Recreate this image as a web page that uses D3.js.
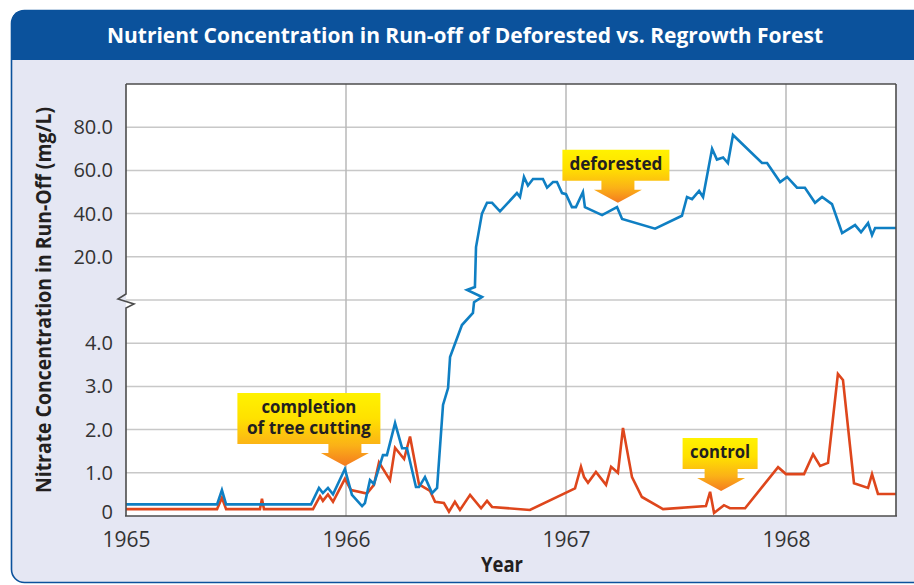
<!DOCTYPE html>
<html>
<head>
<meta charset="utf-8">
<script src="https://cdn.jsdelivr.net/npm/d3@7"></script>
<style>
html,body{margin:0;padding:0;background:#fff;}
svg{display:block;}
</style>
</head>
<body>
<svg id="chart" width="914" height="585"></svg>
<script>
// ---------------- DATA ----------------
const yearTicks = [1965, 1966, 1967, 1968];
const yearLabels = ["1965", "1966", "1967", "1968"];
const lowTicks = [0, 1, 2, 3, 4];
const lowTickLabels = ["0", "1.0", "2.0", "3.0", "4.0"];
const highTicks = [20, 40, 60, 80];
const highTickLabels = ["20.0", "40.0", "60.0", "80.0"];

// Deforested watershed, lower (0-5 mg/L) part
const defLowDates = [1965.000,1965.414,1965.436,1965.455,1965.841,1965.877,1965.895,1965.918,1965.941,1965.995,
  1966.027,1966.073,1966.086,1966.109,1966.127,1966.168,1966.186,1966.223,1966.255,1966.277,1966.318,1966.332,
  1966.359,1966.391,1966.414,1966.441,1966.464,1966.473,1966.527,1966.577,1966.582];
const defLowValues = [0.27,0.27,0.6,0.27,0.27,0.65,0.53,0.65,0.5,1.09,
  0.49,0.23,0.3,0.83,0.74,1.41,1.41,2.15,1.57,1.57,0.67,0.67,
  0.9,0.53,0.65,2.57,2.96,3.68,4.42,4.7,4.95];

// Deforested watershed, upper (0-100 mg/L) part
const defHighDates = [1966.586,1966.591,1966.618,1966.641,1966.664,1966.700,1966.777,1966.791,1966.809,1966.827,
  1966.850,1966.895,1966.914,1966.941,1966.959,1966.982,1967.000,1967.027,1967.045,1967.077,1967.086,1967.164,
  1967.232,1967.255,1967.405,1967.527,1967.550,1967.573,1967.605,1967.623,1967.664,1967.686,1967.714,1967.736,
  1967.759,1967.891,1967.914,1967.973,1968.005,1968.050,1968.086,1968.132,1968.164,1968.209,1968.255,1968.314,
  1968.341,1968.373,1968.391,1968.405,1968.500];
const defHighValues = [6,24.5,40,45,45,41,49.5,47.7,57,53,
  56,56,52,54.6,54.6,49.5,49,43,43,50,43,39.3,
  43,37.5,33,39,47.7,46.7,50.5,47.7,70,65,66,63.4,
  76.4,63.4,63.4,54.6,57,52,52,45,47.7,44.4,31,34.7,
  31.4,35.6,30,33.3,33.3];

// Control (regrowth) watershed
const ctrlDates = [1965.000,1965.414,1965.436,1965.455,1965.609,1965.618,1965.627,1965.850,1965.882,1965.895,
  1965.918,1965.941,1965.995,1966.023,1966.095,1966.127,1966.150,1966.200,1966.223,1966.264,1966.291,1966.332,
  1966.382,1966.405,1966.445,1966.468,1966.495,1966.518,1966.564,1966.614,1966.641,1966.664,1966.836,1967.041,
  1967.068,1967.082,1967.100,1967.136,1967.182,1967.205,1967.236,1967.259,1967.300,1967.345,1967.441,1967.636,
  1967.655,1967.673,1967.718,1967.745,1967.814,1967.964,1968.000,1968.082,1968.123,1968.155,1968.191,1968.236,
  1968.259,1968.309,1968.373,1968.391,1968.418,1968.500];
const ctrlValues = [0.16,0.16,0.42,0.16,0.16,0.4,0.16,0.16,0.46,0.35,
  0.5,0.33,0.86,0.6,0.52,0.72,1.24,0.83,1.58,1.32,1.84,0.73,
  0.58,0.33,0.3,0.1,0.33,0.14,0.49,0.18,0.35,0.21,0.14,0.64,
  1.14,0.9,0.77,1.02,0.72,1.14,1.0,2.04,0.9,0.44,0.16,0.23,
  0.56,0.07,0.25,0.18,0.18,1.13,0.97,0.97,1.43,1.16,1.23,3.29,
  3.15,0.76,0.65,0.97,0.51,0.51];

// Callout annotations (arrow tip anchored at a data coordinate)
const calloutTexts = [["completion", "of tree cutting"], ["deforested"], ["control"]];
const calloutDates = [1965.995, 1967.236, 1967.705];
const calloutValues = [1.16, 45, 0.58];
const calloutPanels = ["low", "high", "low"];

// ---------------- LAYOUT ----------------
const plot = {left: 126, right: 896, top: 84, bottom: 516, brk: 300};
const BLUE = "#0b529c";
const FONT = "'Open Sans', 'Noto Sans', 'DejaVu Sans', sans-serif";

const svg = d3.select("#chart");

const x = d3.scaleLinear().domain([1965, 1968.5]).range([plot.left, plot.right]);
const yLow = d3.scaleLinear().domain([0, 5]).range([plot.bottom, plot.brk]);
const yHigh = d3.scaleLinear().domain([0, 100]).range([plot.brk, plot.top]);

// defs: gradient
const defs = svg.append("defs");
const grad = defs.append("linearGradient").attr("id", "callGrad")
  .attr("x1", 0).attr("y1", 0).attr("x2", 0).attr("y2", 1);
[[0, "#fff200"], [0.35, "#ffe100"], [0.72, "#fbb117"], [1, "#f47b20"]].forEach(s =>
  grad.append("stop").attr("offset", s[0]).attr("stop-color", s[1]));

// ---------------- CARD ----------------
svg.append("rect").attr("x", 11.5).attr("y", 10.5).attr("width", 915).attr("height", 572)
  .attr("rx", 13).attr("fill", "#e5e7f3").attr("stroke", BLUE).attr("stroke-width", 1.6);
svg.append("path")
  .attr("d", "M11.5,60 L11.5,23.5 Q11.5,10.5 24.5,10.5 L926,10.5 L926,60 Z")
  .attr("fill", BLUE);
svg.append("text").attr("x", 465).attr("y", 43)
  .attr("text-anchor", "middle").attr("fill", "#fff")
  .attr("font-family", FONT).attr("font-weight", 700).attr("font-size", 21)
  .attr("textLength", 716).attr("lengthAdjust", "spacingAndGlyphs")
  .text("Nutrient Concentration in Run-off of Deforested vs. Regrowth Forest");

// ---------------- PLOT AREA ----------------
svg.append("rect").attr("x", plot.left).attr("y", plot.top)
  .attr("width", plot.right - plot.left).attr("height", plot.bottom - plot.top).attr("fill", "#fff");

// gridlines
const grid = svg.append("g").attr("stroke", "#c8c8c8").attr("stroke-width", 1.5);
grid.selectAll("line.gl").data(lowTicks.filter(d => d > 0)).join("line").attr("class", "gl")
  .attr("x1", plot.left).attr("x2", plot.right)
  .attr("y1", d => yLow(d)).attr("y2", d => yLow(d));
grid.selectAll("line.gh").data([0].concat(highTicks)).join("line").attr("class", "gh")
  .attr("x1", plot.left).attr("x2", plot.right)
  .attr("y1", d => yHigh(d)).attr("y2", d => yHigh(d));
svg.append("g").attr("stroke", "#b8b8b8").attr("stroke-width", 1.5)
  .selectAll("line").data(yearTicks.slice(1)).join("line")
  .attr("x1", d => x(d)).attr("x2", d => x(d))
  .attr("y1", plot.top).attr("y2", plot.bottom);

// ---------------- AXES LABELS ----------------
function styleAxis(g, size) {
  g.select(".domain").remove();
  g.selectAll("text").attr("font-family", FONT).attr("font-size", size).attr("fill", "#333");
}
svg.append("g").attr("transform", `translate(${plot.left},0)`)
  .call(d3.axisLeft(yLow).tickValues(lowTicks).tickFormat((d, i) => lowTickLabels[i]).tickSize(0).tickPadding(13))
  .call(g => styleAxis(g, 20))
  .call(g => g.selectAll("text").attr("dy", d => d === 0 ? "0.1em" : "0.32em"));
svg.append("g").attr("transform", `translate(${plot.left},0)`)
  .call(d3.axisLeft(yHigh).tickValues(highTicks).tickFormat((d, i) => highTickLabels[i]).tickSize(0).tickPadding(13))
  .call(g => styleAxis(g, 20));
svg.append("g").attr("transform", `translate(0,${plot.bottom})`)
  .call(d3.axisBottom(x).tickValues(yearTicks).tickFormat((d, i) => yearLabels[i]).tickSize(0).tickPadding(16))
  .call(g => styleAxis(g, 21));

// axis titles
svg.append("text").attr("transform", "translate(51,300) rotate(-90)")
  .attr("text-anchor", "middle").attr("fill", "#231f20")
  .attr("font-family", FONT).attr("font-weight", 700).attr("font-size", 21)
  .attr("textLength", 386).attr("lengthAdjust", "spacingAndGlyphs")
  .text("Nitrate Concentration in Run-Off (mg/L)");
svg.append("text").attr("x", 502).attr("y", 572)
  .attr("text-anchor", "middle").attr("fill", "#231f20")
  .attr("font-family", FONT).attr("font-weight", 700).attr("font-size", 21)
  .attr("textLength", 42).attr("lengthAdjust", "spacingAndGlyphs")
  .text("Year");

// ---------------- SERIES ----------------
const zip = (ds, vs) => ds.map((d, i) => ({date: d, value: vs[i]}));
const ctrl = zip(ctrlDates, ctrlValues);
const defLow = zip(defLowDates, defLowValues);
const defHigh = zip(defHighDates, defHighValues);

const lineLow = d3.line().x(d => x(d.date)).y(d => yLow(d.value));

const lineStyle = (sel, color) => sel.attr("fill", "none").attr("stroke", color)
  .attr("stroke-width", 2.6).attr("stroke-linejoin", "miter").attr("stroke-miterlimit", 4);

svg.append("path").datum(ctrl).attr("d", lineLow).call(lineStyle, "#de461c");

// deforested: lower part, break zig-zag, upper part as one path
const lastLow = defLow[defLow.length - 1];
const xl = x(lastLow.date);
const yb = yLow(5);
const zig = [[xl + 8, yb - 3], [xl - 7, yb - 10]];
const ptsLow = defLow.map(d => [x(d.date), yLow(d.value)]);
const ptsHigh = defHigh.map(d => [x(d.date), yHigh(d.value)]);
svg.append("path").attr("d", d3.line()(ptsLow.concat(zig, ptsHigh))).call(lineStyle, "#0f7fc3");

// ---------------- FRAME ----------------
const frame = svg.append("g").attr("stroke", "#4d4d4d").attr("stroke-width", 1.6).attr("fill", "none");
frame.append("line").attr("x1", plot.left).attr("x2", plot.right).attr("y1", plot.top).attr("y2", plot.top);
frame.append("line").attr("x1", plot.right).attr("x2", plot.right).attr("y1", plot.top).attr("y2", plot.bottom);
frame.append("line").attr("x1", plot.left - 1).attr("x2", plot.right + 1).attr("y1", plot.bottom).attr("y2", plot.bottom);
frame.append("path").attr("d",
  `M${plot.left},${plot.top} L${plot.left},${plot.brk - 6} L${plot.left - 8},${plot.brk - 1} L${plot.left + 8},${plot.brk + 4} L${plot.left},${plot.brk + 8} L${plot.left},${plot.bottom}`);

// ---------------- CALLOUTS ----------------
const boxW = [143, 107, 75], boxH = [51, 31, 31], boxDx = [-36, -2, -1];
calloutTexts.forEach((lines, i) => {
  const tx = x(calloutDates[i]);
  const ty = calloutPanels[i] === "low" ? yLow(calloutValues[i]) : yHigh(calloutValues[i]);
  const headH = 13, stemH = 9, headHalf = 24, stemHalf = 16.5;
  const bBottom = ty - headH - stemH, bTop = bBottom - boxH[i];
  const cx = tx + boxDx[i];
  const bl = cx - boxW[i] / 2, br = cx + boxW[i] / 2;
  const d = `M${bl},${bTop} L${br},${bTop} L${br},${bBottom} L${tx + stemHalf},${bBottom} L${tx + stemHalf},${bBottom + stemH}
    L${tx + headHalf},${bBottom + stemH} L${tx},${ty} L${tx - headHalf},${bBottom + stemH} L${tx - stemHalf},${bBottom + stemH}
    L${tx - stemHalf},${bBottom} L${bl},${bBottom} Z`;
  svg.append("path").attr("d", d).attr("fill", "url(#callGrad)");
  const tl = [[95, 124], [93], [60]][i];
  lines.forEach((t, j) => {
    svg.append("text").attr("x", cx).attr("y", bTop + 20 + j * 21)
      .attr("text-anchor", "middle").attr("fill", "#231f20")
      .attr("font-family", FONT).attr("font-weight", 700).attr("font-size", 17)
      .attr("textLength", tl[j]).attr("lengthAdjust", "spacingAndGlyphs")
      .text(t);
  });
});
</script>
</body>
</html>
